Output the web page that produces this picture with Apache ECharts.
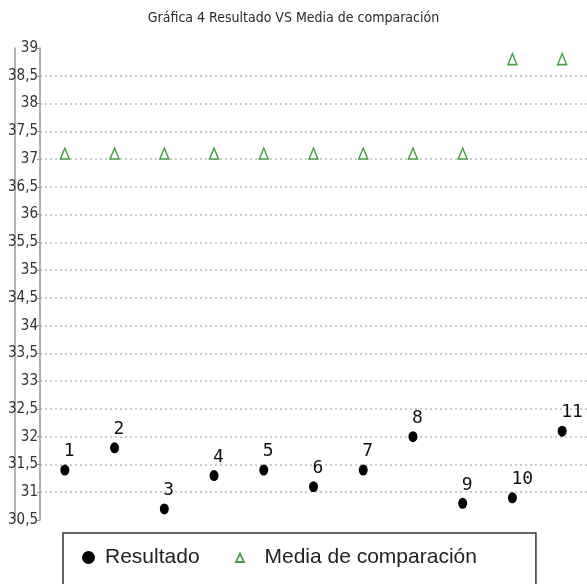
<!DOCTYPE html>
<html><head><meta charset="utf-8">
<script src="https://cdn.jsdelivr.net/npm/echarts@6/dist/echarts.min.js"></script>
<style>html,body{margin:0;padding:0;background:#fff}#c{width:587px;height:584px}</style>
</head><body><div id="c"></div>
<script>
const titleText = 'Gráfica 4 Resultado VS Media de comparación';
const categories = ['1','2','3','4','5','6','7','8','9','10','11'];
const resultado = [31.4, 31.8, 30.7, 31.3, 31.4, 31.1, 31.4, 32.0, 30.8, 30.9, 32.1];
const mediaComparacion = [37.1, 37.1, 37.1, 37.1, 37.1, 37.1, 37.1, 37.1, 37.1, 38.8, 38.8];
const yMin = 30.5, yMax = 39, yStep = 0.5;

const GREEN = '#45a045';
const chart = echarts.init(document.getElementById('c'), null, {renderer:'canvas'});
const condensed = '"DejaVu Sans Condensed", "Liberation Sans Narrow", sans-serif';
chart.setOption({
  animation: false,
  title: {
    text: titleText, left: 'center', top: 6,
    textStyle: {fontFamily: condensed, fontSize: 14, fontWeight: 'normal', color: '#2a2a2a'}
  },
  legend: {
    left: 63, top: 533,
    padding: [14, 59, 40, 12],
    borderColor: '#333', borderWidth: 1.5, borderRadius: 0,
    itemGap: 34, itemWidth: 25, itemHeight: 14,
    textStyle: {fontFamily: '"Liberation Sans", Arial, sans-serif', fontSize: 21, color: '#222'},
    data: [
      {name: 'Resultado',
       icon: 'path://M0,0M25,14M7,7a6.5,6.5 0 1,0 13,0a6.5,6.5 0 1,0 -13,0Z',
       itemStyle: {color: '#000', borderWidth: 0}},
      {name: 'Media de comparación',
       icon: 'path://M0,0M25,14M5.5,3L9.5,11.5L1.5,11.5Z',
       itemStyle: {color: '#fff', borderColor: GREEN, borderWidth: 1.8}}
    ]
  },
  grid: {left: 40, right: -3, top: 48, bottom: 64, containLabel: false},
  xAxis: {
    type: 'category', data: categories, boundaryGap: true,
    axisLine: {show: false}, axisTick: {show: false}, axisLabel: {show: false}, splitLine: {show: false}
  },
  yAxis: [{
    type: 'value', min: yMin, max: yMax, interval: yStep,
    axisLine: {show: true, lineStyle: {color: '#999', width: 1.5}},
    axisTick: {show: true, length: 3, lineStyle: {color: '#999'}},
    axisLabel: {margin: 2, fontFamily: condensed, fontSize: 15, color: '#333',
      formatter: v => String(v).replace('.', ',')},
    splitLine: {show: true, showMinLine: false, showMaxLine: false,
      lineStyle: {color: '#bbb', type: [2, 3], width: 1.5}}
  }, {
    type: 'value', min: yMin, max: yMax, interval: yStep, position: 'left', offset: 25,
    axisLine: {show: true, lineStyle: {color: '#999', width: 1.5}},
    axisTick: {show: false}, axisLabel: {show: false}, splitLine: {show: false}
  }],
  series: [{
    name: 'Resultado', type: 'scatter', data: resultado,
    symbol: 'circle', symbolSize: [9, 11],
    itemStyle: {color: '#000', opacity: 1},
    label: {show: true, position: 'top', align: 'left', offset: [-1, 1], formatter: '{b}',
      fontFamily: '"DejaVu Sans Mono", monospace', fontSize: 18, color: '#111'}
  }, {
    name: 'Media de comparación', type: 'scatter', data: mediaComparacion,
    symbol: 'triangle', symbolSize: [9, 11],
    itemStyle: {color: '#fff', borderColor: GREEN, borderWidth: 1.5, opacity: 1}
  }]
});
</script></body></html>
